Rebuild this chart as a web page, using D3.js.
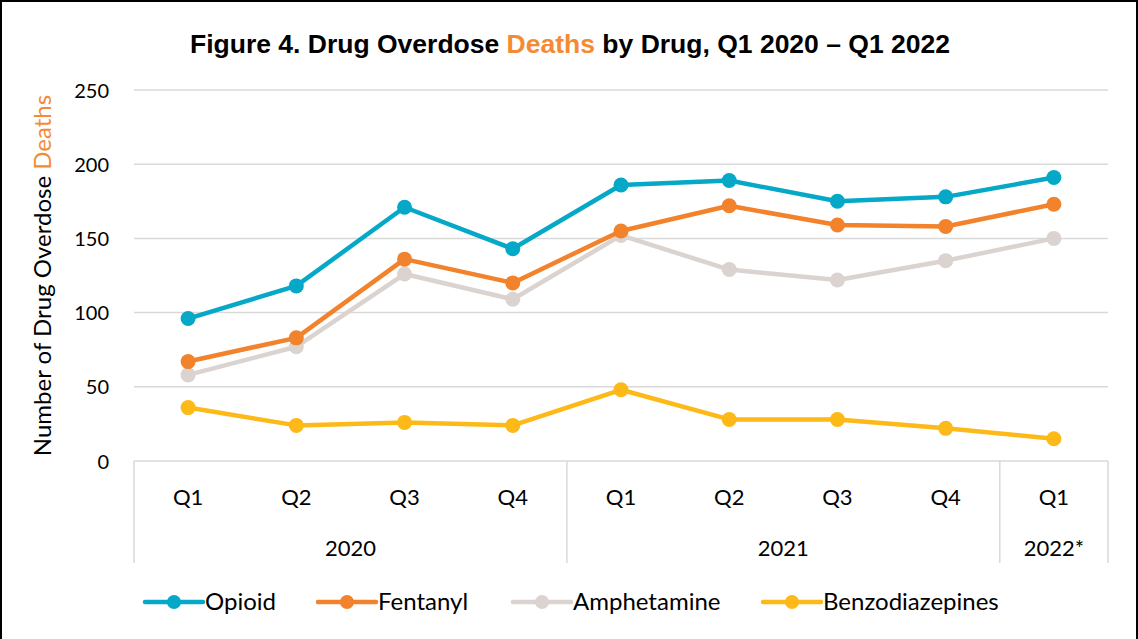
<!DOCTYPE html>
<html>
<head>
<meta charset="utf-8">
<script src="https://cdn.jsdelivr.net/npm/d3@7"></script>
<style>
  html, body { margin: 0; padding: 0; background: #fff; }
  svg { display: block; }
</style>
</head>
<body>
<svg id="chart" width="1138" height="639"></svg>
<script>
// Quarter labels along the x axis, grouped by year
const quarters = ["Q1", "Q2", "Q3", "Q4", "Q1", "Q2", "Q3", "Q4", "Q1"];
const years = [
  { label: "2020", start: 0, end: 4 },
  { label: "2021", start: 4, end: 8 },
  { label: "2022*", start: 8, end: 9 }
];

// Deaths per quarter, Q1 2020 – Q1 2022
const opioid          = [96, 118, 171, 143, 186, 189, 175, 178, 191];
const fentanyl        = [67, 83, 136, 120, 155, 172, 159, 158, 173];
const amphetamine     = [58, 77, 126, 109, 152, 129, 122, 135, 150];
const benzodiazepines = [36, 24, 26, 24, 48, 28, 28, 22, 15];

const yTicks = [0, 50, 100, 150, 200, 250];

const seriesNames = ["Opioid", "Fentanyl", "Amphetamine", "Benzodiazepines"];
const seriesColors = ["#05A8C7", "#F2822B", "#DAD3CF", "#FDB917"];
const seriesData = [opioid, fentanyl, amphetamine, benzodiazepines];

const svg = d3.select("#chart");
const W = 1138, H = 639;
const margin = { left: 134, right: 30, top: 90, bottom: 178 };
const plotRight = W - margin.right;
const labelFont = "Lato, 'Open Sans', sans-serif";

// Outer frame
svg.append("rect")
  .attr("x", 1).attr("y", 1)
  .attr("width", W - 2).attr("height", H + 4)
  .attr("fill", "#fff")
  .attr("stroke", "#000").attr("stroke-width", 2);

// Title
const title = svg.append("text")
  .attr("x", 570).attr("y", 53)
  .attr("text-anchor", "middle")
  .attr("font-family", "'Liberation Sans', Arial, sans-serif")
  .attr("font-weight", "bold")
  .attr("font-size", 26.5)
  .attr("fill", "#000");
title.append("tspan").text("Figure 4. Drug Overdose ");
title.append("tspan").attr("fill", "#F58A34").text("Deaths");
title.append("tspan").text(" by Drug, Q1 2020 \u2013 Q1 2022");

// Scales
const x = d3.scaleBand()
  .domain(d3.range(quarters.length))
  .range([margin.left, plotRight])
  .padding(0);

const y = d3.scaleLinear()
  .domain([0, 250])
  .range([461, margin.top]);

// Horizontal gridlines
svg.append("g")
  .selectAll("line")
  .data(yTicks.filter(d => d > 0))
  .join("line")
  .attr("x1", margin.left).attr("x2", plotRight)
  .attr("y1", d => y(d)).attr("y2", d => y(d))
  .attr("stroke", "#D9D9D9").attr("stroke-width", 1.5);

// Y axis tick labels
const yAxis = d3.axisLeft(y).tickValues(yTicks).tickSize(0).tickPadding(0);
const yg = svg.append("g")
  .attr("transform", `translate(${margin.left - 25},0)`)
  .call(yAxis);
yg.select(".domain").remove();
yg.selectAll("text")
  .attr("font-family", labelFont)
  .attr("font-size", 20)
  .attr("fill", "#000")
  .attr("dy", "0.35em");

// Y axis title
const yTitle = svg.append("text")
  .attr("transform", `translate(51,${(y(0) + y(250)) / 2}) rotate(-90)`)
  .attr("text-anchor", "middle")
  .attr("font-family", labelFont)
  .attr("font-size", 24)
  .attr("fill", "#000");
yTitle.append("tspan").text("Number of Drug Overdose ");
yTitle.append("tspan").attr("fill", "#F58A34").text("Deaths");

// Category axis box: baseline and year separators
const axisG = svg.append("g");
const boxBottom = 563;
const edge = i => (i < quarters.length ? x(i) : x.range()[1]);
axisG.append("line")
  .attr("x1", margin.left).attr("x2", plotRight)
  .attr("y1", y(0)).attr("y2", y(0))
  .attr("stroke", "#D9D9D9").attr("stroke-width", 1.5);
const separators = [years[0].start].concat(years.map(d => d.end));
axisG.selectAll("line.sep")
  .data(separators)
  .join("line")
  .attr("class", "sep")
  .attr("x1", d => edge(d))
  .attr("x2", d => edge(d))
  .attr("y1", y(0)).attr("y2", boxBottom)
  .attr("stroke", "#D9D9D9").attr("stroke-width", 1.5);

// Quarter labels
axisG.selectAll("text.q")
  .data(quarters)
  .join("text")
  .attr("class", "q")
  .attr("x", (d, i) => x(i) + x.bandwidth() / 2)
  .attr("y", 505)
  .attr("text-anchor", "middle")
  .attr("font-family", labelFont)
  .attr("font-size", 22)
  .attr("fill", "#000")
  .text(d => d);

// Year labels
axisG.selectAll("text.yr")
  .data(years)
  .join("text")
  .attr("class", "yr")
  .attr("x", d => (edge(d.start) + edge(d.end)) / 2)
  .attr("y", 556)
  .attr("text-anchor", "middle")
  .attr("font-family", labelFont)
  .attr("font-size", 22)
  .attr("fill", "#000")
  .text(d => d.label);

// Series lines and markers
const line = d3.line()
  .x((d, i) => x(i) + x.bandwidth() / 2)
  .y(d => y(d));

const seriesG = svg.append("g");
const groups = seriesData.map((vals, s) => {
  const g = seriesG.append("g");
  g.append("path")
    .datum(vals)
    .attr("d", line)
    .attr("fill", "none")
    .attr("stroke", seriesColors[s])
    .attr("stroke-width", 4.5)
    .attr("stroke-linejoin", "round");
  g.selectAll("circle")
    .data(vals)
    .join("circle")
    .attr("cx", (d, i) => x(i) + x.bandwidth() / 2)
    .attr("cy", d => y(d))
    .attr("r", 7.5)
    .attr("fill", seriesColors[s]);
  return g.node();
});
// Keep Fentanyl and Opioid above Amphetamine where they overlap
seriesG.node().appendChild(groups[1]);
seriesG.node().appendChild(groups[0]);

// Legend
const legendX = [145, 318, 513, 763];
const legendY = 602;
const legend = svg.append("g");
seriesNames.forEach((name, i) => {
  const lg = legend.append("g").attr("transform", `translate(${legendX[i]},${legendY})`);
  lg.append("line")
    .attr("x1", 0).attr("x2", 58)
    .attr("y1", 0).attr("y2", 0)
    .attr("stroke", seriesColors[i])
    .attr("stroke-width", 4.5)
    .attr("stroke-linecap", "round");
  lg.append("circle")
    .attr("cx", 29).attr("cy", 0).attr("r", 7)
    .attr("fill", seriesColors[i]);
  lg.append("text")
    .attr("x", 60).attr("y", 0)
    .attr("dy", "0.35em")
    .attr("font-family", labelFont)
    .attr("font-size", 24)
    .attr("fill", "#000")
    .text(name);
});
</script>
</body>
</html>
